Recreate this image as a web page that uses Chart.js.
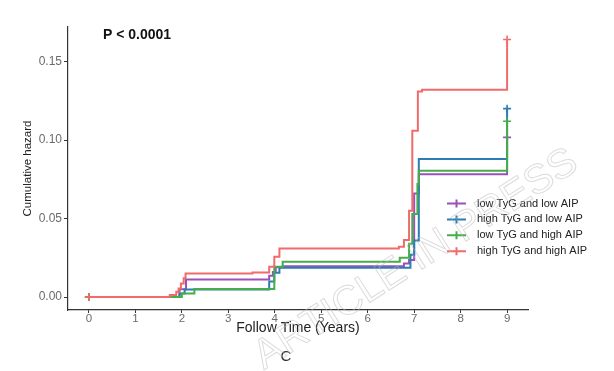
<!DOCTYPE html>
<html>
<head>
<meta charset="utf-8">
<script src="https://cdn.jsdelivr.net/npm/chart.js@4.4.0/dist/chart.umd.min.js"></script>
<style>
  html, body { margin: 0; padding: 0; background: #fff; }
</style>
</head>
<body>
<canvas id="chart" width="614" height="371"></canvas>
<script>
// groups, in legend order
var groups = ['low TyG and low AIP', 'high TyG and low AIP', 'low TyG and high AIP', 'high TyG and high AIP'];
var colors = ['#9a52b6', '#2b7db3', '#45ad4a', '#f26b6b'];

// event times (years) and cumulative hazard
var timeLowLow = [0, 1.95, 2.09, 3.88, 3.96, 4.02, 4.17, 6.78, 6.89, 7.0, 7.1, 9];
var hazLowLow  = [0, 0.005, 0.0112, 0.0136, 0.016, 0.019, 0.0197, 0.0214, 0.0236, 0.066, 0.0782, 0.1017];

var timeHighLow = [0, 1.95, 2.06, 3.88, 3.99, 4.1, 6.92, 7.0, 7.1, 9];
var hazHighLow  = [0, 0.0023, 0.0049, 0.010, 0.0155, 0.0187, 0.027, 0.036, 0.088, 0.120];

var timeLowHigh = [0, 2.0, 2.27, 3.99, 4.17, 6.69, 6.89, 6.96, 7.07, 7.1, 9];
var hazLowHigh  = [0, 0.0023, 0.0051, 0.0193, 0.0225, 0.025, 0.034, 0.053, 0.072, 0.0805, 0.112];

var timeHighHigh = [0, 1.74, 1.88, 1.93, 1.98, 2.04, 2.08, 3.52, 3.88, 3.99, 4.1, 6.67, 6.78, 6.89, 6.96, 7.08, 7.17, 9];
var hazHighHigh  = [0, 0.0013, 0.0034, 0.0055, 0.0087, 0.012, 0.0151, 0.0156, 0.0193, 0.0257, 0.031, 0.032, 0.0363, 0.055, 0.106, 0.131, 0.132, 0.164];

// axis ticks
var xTicks = [0, 1, 2, 3, 4, 5, 6, 7, 8, 9];
var yTicks = [0, 0.05, 0.10, 0.15];

var FONT = '"Liberation Sans", Arial, sans-serif';

function toPoints(t, h) {
  return t.map(function (v, i) { return { x: v, y: h[i] }; });
}

// censor marks (+) only at start and end of each curve
function marks(t) {
  return t.map(function (v, i) { return (i === 0 || i === t.length - 1) ? 4 : 0; });
}

function makeSet(i, t, h, order) {
  return {
    label: groups[i],
    data: toPoints(t, h),
    borderColor: colors[i],
    backgroundColor: colors[i],
    borderWidth: 2,
    stepped: 'before',
    fill: false,
    pointStyle: 'cross',
    pointRadius: marks(t),
    pointBorderWidth: 1.6,
    pointBorderColor: colors[i],
    order: order
  };
}

// extra texts: p-value, legend, panel letter, watermark
var extrasPlugin = {
  id: 'extras',
  afterDraw: function (chart) {
    var ctx = chart.ctx;
    ctx.save();

    ctx.fillStyle = '#111';
    ctx.font = 'bold 14px ' + FONT;
    ctx.textBaseline = 'middle';
    ctx.textAlign = 'left';
    ctx.fillText('P < 0.0001', 103, 35);

    groups.forEach(function (name, i) {
      var y = 203.5 + i * 15.9;
      ctx.strokeStyle = colors[i];
      ctx.lineWidth = 2;
      ctx.beginPath();
      ctx.moveTo(447, y); ctx.lineTo(466, y);
      ctx.moveTo(456.5, y - 4); ctx.lineTo(456.5, y + 4);
      ctx.stroke();
      ctx.fillStyle = '#222';
      ctx.font = '11px ' + FONT;
      ctx.fillText(name, 477, y);
    });

    ctx.fillStyle = '#333';
    ctx.font = '15px ' + FONT;
    ctx.textAlign = 'center';
    ctx.fillText('C', 286, 357);

    // watermark
    ctx.translate(264, 370);
    ctx.rotate(-32.5 * Math.PI / 180);
    ctx.font = '41px ' + FONT;
    ctx.textAlign = 'left';
    ctx.textBaseline = 'alphabetic';
    ctx.strokeStyle = 'rgba(185,185,185,0.5)';
    ctx.lineWidth = 1;
    ctx.strokeText('ARTICLE IN PRESS', 0, 0);

    ctx.restore();
  }
};

var ctx = document.getElementById('chart').getContext('2d');
var myChart = new Chart(ctx, {
  type: 'line',
  data: {
    datasets: [
      makeSet(0, timeLowLow, hazLowLow, 4),
      makeSet(1, timeHighLow, hazHighLow, 3),
      makeSet(2, timeLowHigh, hazLowHigh, 2),
      makeSet(3, timeHighHigh, hazHighHigh, 1)
    ]
  },
  options: {
    responsive: false,
    animation: false,
    layout: { padding: { left: 0, right: 86, top: 27, bottom: 31 } },
    plugins: {
      legend: { display: false },
      tooltip: { enabled: false }
    },
    scales: {
      x: {
        type: 'linear',
        min: -0.45,
        max: 9.45,
        afterBuildTicks: function (scale) {
          scale.ticks = xTicks.map(function (v) { return { value: v }; });
        },
        afterFit: function (scale) { scale.height = 30; },
        grid: { drawOnChartArea: false, drawTicks: true, tickLength: 3, tickColor: '#333' },
        border: { display: true, color: '#333', width: 1.2 },
        ticks: {
          autoSkip: false,
          maxRotation: 0,
          padding: 0,
          color: '#6b6b6b',
          font: { family: FONT, size: 11.5, lineHeight: 1 }
        },
        title: {
          display: true,
          text: 'Follow Time (Years)',
          color: '#222',
          padding: { top: 0, bottom: 5 },
          font: { family: FONT, size: 14, lineHeight: 1 }
        }
      },
      y: {
        type: 'linear',
        min: -0.0082,
        max: 0.172,
        afterBuildTicks: function (scale) {
          scale.ticks = yTicks.map(function (v) { return { value: v }; });
        },
        afterFit: function (scale) { scale.width = 68; },
        grid: { drawOnChartArea: false, drawTicks: true, tickLength: 4, tickColor: '#333' },
        border: { display: true, color: '#333', width: 1.2 },
        ticks: {
          padding: 2,
          color: '#6b6b6b',
          font: { family: FONT, size: 12, lineHeight: 1 },
          callback: function (value) { return value.toFixed(2); }
        },
        title: {
          display: true,
          text: 'Cumulative hazard',
          color: '#222',
          padding: { top: 22, bottom: 0 },
          font: { family: FONT, size: 11.5, lineHeight: 1 }
        }
      }
    }
  },
  plugins: [extrasPlugin]
});
</script>
</body>
</html>
